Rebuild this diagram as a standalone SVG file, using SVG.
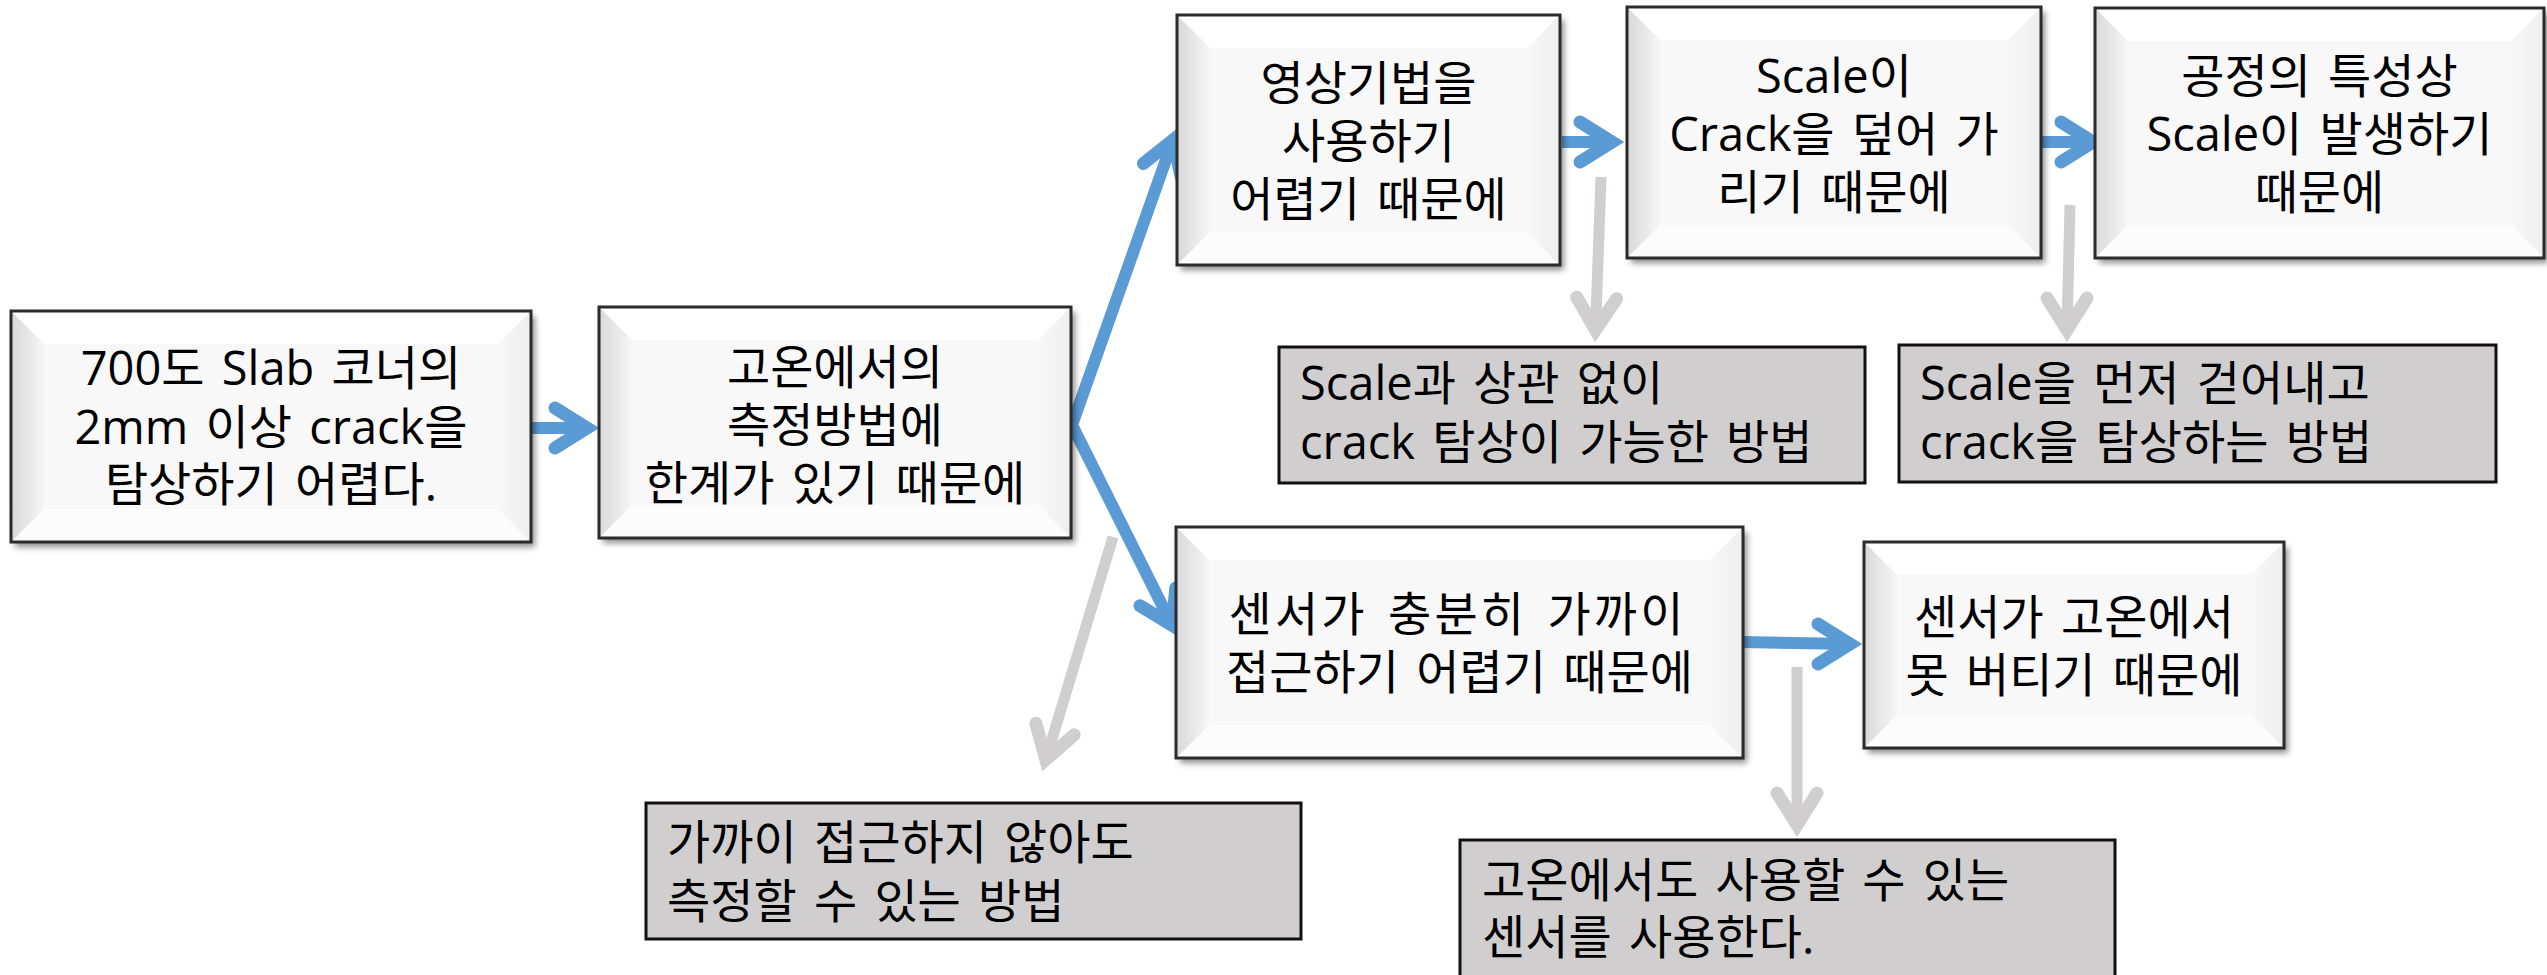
<svg xmlns="http://www.w3.org/2000/svg" width="2547" height="975" viewBox="0 0 2547 975">
<style>
.base{fill:#f8f8f8;filter:url(#sh)}
.bt{fill:#ffffff}
.bb{fill:#fcfcfc}
.bl{fill:url(#gl)}
.br{fill:url(#gr)}
.frame{fill:none;stroke:#2b2b2b;stroke-width:3}
.gbox{fill:#D0CECE;stroke:#111;stroke-width:3}
text{font-family:"Open Sans","Noto Sans CJK KR",sans-serif;font-size:47px;fill:#000;word-spacing:5px}
.c{text-anchor:middle}
.bs{fill:none;stroke:#5B9BD5;stroke-width:12}
.bh{fill:none;stroke:#5B9BD5;stroke-width:13;stroke-linecap:round;stroke-linejoin:miter}
.gs{fill:none;stroke:#D0CECE;stroke-width:11}
.gh{fill:none;stroke:#D0CECE;stroke-width:13;stroke-linecap:round;stroke-linejoin:miter}
</style>
<defs>
<filter id="sh" x="-5%" y="-5%" width="115%" height="120%"><feDropShadow dx="4" dy="5" stdDeviation="3" flood-color="#000" flood-opacity="0.45"/></filter>
<linearGradient id="gl" x1="0" y1="0" x2="1" y2="0"><stop offset="0" stop-color="#d8d8d8"/><stop offset="1" stop-color="#f6f6f6"/></linearGradient>
<linearGradient id="gr" x1="0" y1="0" x2="1" y2="0"><stop offset="0" stop-color="#f8f8f8"/><stop offset="1" stop-color="#eeeeee"/></linearGradient>
</defs>

<g id="connectors">
<path class="bs" d="M532,428 L588,428"/>
<path class="bh" d="M555,408 L587,428 L555,448"/>
<path class="bs" d="M1173,140 L1072,425 L1172,625" stroke-width="11"/>
<path class="bh" d="M1143.4,163.5 L1173,140 L1181.2,176.9"/>
<path class="bh" d="M1175.8,587.9 L1172.2,625.4 L1140,605.7"/>
<path class="bs" d="M1562,142 L1612,142"/>
<path class="bh" d="M1580,122 L1612,142 L1580,162"/>
<path class="bs" d="M2034,142 L2093,142"/>
<path class="bh" d="M2061,122 L2093,142 L2061,162"/>
<path class="bs" d="M1743,642 L1850,644"/>
<path class="bh" d="M1818,624 L1850,644 L1818,664"/>
<path class="gs" d="M1601,177 L1595.5,330"/>
<path class="gh" d="M1576.7,297.3 L1595.5,330 L1616.7,298.7"/>
<path class="gs" d="M2070,205 L2067,330"/>
<path class="gh" d="M2047,298 L2067,330 L2087,298"/>
<path class="gs" d="M1797,667 L1797,825"/>
<path class="gh" d="M1777,793 L1797,825 L1817,793"/>
<path class="gs" d="M1113,537 L1045.8,759.6"/>
<path class="gh" d="M1035.9,723.2 L1045.8,759.6 L1074.1,734.8"/>
</g>

<g id="n1">
<rect class="base" x="11" y="311" width="520" height="231"/>
<polygon class="bt" points="11,311 531,311 498,344 44,344"/>
<polygon class="bb" points="11,542 531,542 498,509 44,509"/>
<polygon class="bl" points="11,311 44,344 44,509 11,542"/>
<polygon class="br" points="531,311 498,344 498,509 531,542"/>
<rect class="frame" x="11" y="311" width="520" height="231"/>
<text class="c"><tspan x="271" y="385">700도 Slab 코너의</tspan><tspan x="271" y="444">2mm 이상 crack을</tspan><tspan x="271" y="501">탐상하기 어렵다.</tspan></text>
</g>

<g id="n2">
<rect class="base" x="599" y="307" width="472" height="231"/>
<polygon class="bt" points="599,307 1071,307 1038,340 632,340"/>
<polygon class="bb" points="599,538 1071,538 1038,505 632,505"/>
<polygon class="bl" points="599,307 632,340 632,505 599,538"/>
<polygon class="br" points="1071,307 1038,340 1038,505 1071,538"/>
<rect class="frame" x="599" y="307" width="472" height="231"/>
<text class="c"><tspan x="835" y="384">고온에서의</tspan><tspan x="835" y="442">측정방법에</tspan><tspan x="835" y="500">한계가 있기 때문에</tspan></text>
</g>

<g id="n3">
<rect class="base" x="1177" y="15" width="383" height="250"/>
<polygon class="bt" points="1177,15 1560,15 1527,48 1210,48"/>
<polygon class="bb" points="1177,265 1560,265 1527,232 1210,232"/>
<polygon class="bl" points="1177,15 1210,48 1210,232 1177,265"/>
<polygon class="br" points="1560,15 1527,48 1527,232 1560,265"/>
<rect class="frame" x="1177" y="15" width="383" height="250"/>
<text class="c"><tspan x="1368.5" y="100">영상기법을</tspan><tspan x="1368.5" y="158">사용하기</tspan><tspan x="1368.5" y="216">어렵기 때문에</tspan></text>
</g>

<g id="n4">
<rect class="base" x="1627" y="7" width="414" height="251"/>
<polygon class="bt" points="1627,7 2041,7 2008,40 1660,40"/>
<polygon class="bb" points="1627,258 2041,258 2008,225 1660,225"/>
<polygon class="bl" points="1627,7 1660,40 1660,225 1627,258"/>
<polygon class="br" points="2041,7 2008,40 2008,225 2041,258"/>
<rect class="frame" x="1627" y="7" width="414" height="251"/>
<text class="c"><tspan x="1834" y="93">Scale이</tspan><tspan x="1834" y="151">Crack을 덮어 가</tspan><tspan x="1834" y="209">리기 때문에</tspan></text>
</g>

<g id="n5">
<rect class="base" x="2095" y="8" width="449" height="250"/>
<polygon class="bt" points="2095,8 2544,8 2511,41 2128,41"/>
<polygon class="bb" points="2095,258 2544,258 2511,225 2128,225"/>
<polygon class="bl" points="2095,8 2128,41 2128,225 2095,258"/>
<polygon class="br" points="2544,8 2511,41 2511,225 2544,258"/>
<rect class="frame" x="2095" y="8" width="449" height="250"/>
<text class="c"><tspan x="2319.5" y="93">공정의 특성상</tspan><tspan x="2319.5" y="151">Scale이 발생하기</tspan><tspan x="2319.5" y="209">때문에</tspan></text>
</g>

<g id="n6">
<rect class="gbox" x="1279" y="347" width="586" height="136"/>
<text><tspan x="1300" y="400">Scale과 상관 없이</tspan><tspan x="1300" y="459">crack 탐상이 가능한 방법</tspan></text>
</g>

<g id="n7">
<rect class="gbox" x="1899" y="345" width="597" height="137"/>
<text><tspan x="1920" y="400">Scale을 먼저 걷어내고</tspan><tspan x="1920" y="459">crack을 탐상하는 방법</tspan></text>
</g>

<g id="n8">
<rect class="base" x="1176" y="527" width="567" height="231"/>
<polygon class="bt" points="1176,527 1743,527 1710,560 1209,560"/>
<polygon class="bb" points="1176,758 1743,758 1710,725 1209,725"/>
<polygon class="bl" points="1176,527 1209,560 1209,725 1176,758"/>
<polygon class="br" points="1743,527 1710,560 1710,725 1743,758"/>
<rect class="frame" x="1176" y="527" width="567" height="231"/>
<text class="c"><tspan x="1456" y="631" textLength="455" lengthAdjust="spacing">센서가 충분히 가까이</tspan><tspan x="1459.5" y="689">접근하기 어렵기 때문에</tspan></text>
</g>

<g id="n9">
<rect class="base" x="1864" y="542" width="420" height="206"/>
<polygon class="bt" points="1864,542 2284,542 2251,575 1897,575"/>
<polygon class="bb" points="1864,748 2284,748 2251,715 1897,715"/>
<polygon class="bl" points="1864,542 1897,575 1897,715 1864,748"/>
<polygon class="br" points="2284,542 2251,575 2251,715 2284,748"/>
<rect class="frame" x="1864" y="542" width="420" height="206"/>
<text class="c"><tspan x="2074" y="634">센서가 고온에서</tspan><tspan x="2074" y="692">못 버티기 때문에</tspan></text>
</g>

<g id="n10">
<rect class="gbox" x="646" y="803" width="655" height="136"/>
<text><tspan x="667" y="859">가까이 접근하지 않아도</tspan><tspan x="667" y="918">측정할 수 있는 방법</tspan></text>
</g>

<g id="n11">
<rect class="gbox" x="1460" y="840" width="655" height="150"/>
<text><tspan x="1482" y="897">고온에서도 사용할 수 있는</tspan><tspan x="1482" y="954">센서를 사용한다.</tspan></text>
</g>
</svg>
